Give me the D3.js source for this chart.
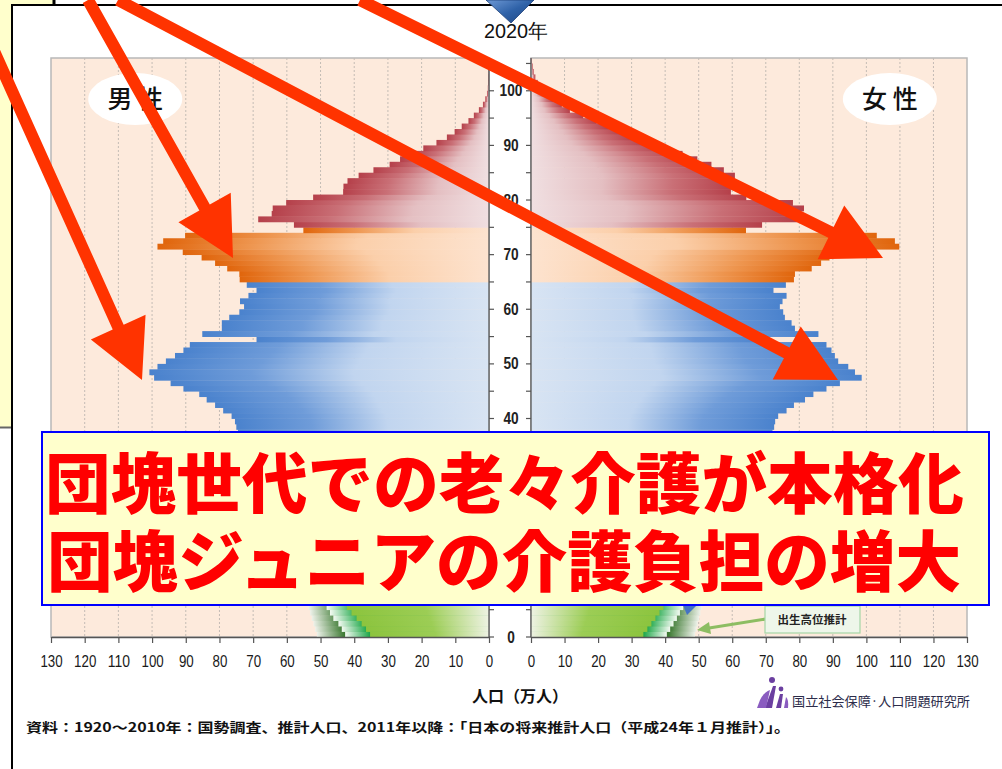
<!DOCTYPE html>
<html>
<head>
<meta charset="utf-8">
<script src="https://cdn.jsdelivr.net/npm/d3@7"></script>
<style>
  html, body { margin: 0; padding: 0; background: #fff; }
  svg { display: block; }
</style>
</head>
<body>
<svg id="chart" width="1002" height="769"></svg>
<script>
// ---- data: population by single year of age (万人), 2020 ----
const ages = d3.range(0, 106);

// male, medium-variant projection (index = age)
const male = [
  42.7, 43.7, 44.7, 46.2, 47.2, 48.2, 49.5, 51.0, 52.6, 53.8,
  54.6, 55.3, 56.2, 56.9, 57.6, 58.3, 59.0, 59.5, 60.4, 60.8,
  61.0, 61.2, 61.5, 61.0, 60.5, 61.5, 62.0, 62.5, 63.2, 64.5,
  65.5, 67.0, 68.8, 70.0, 71.2, 72.5, 73.2, 74.5, 75.0, 75.4,
  76.4, 78.9, 81.3, 83.8, 86.0, 90.7, 94.5, 99.4, 100.8, 98.4,
  95.9, 93.2, 90.7, 88.8, 69.0, 85.1, 79.3, 79.3, 77.1, 74.1,
  72.7, 73.9, 71.4, 69.0, 71.9, 74.0, 74.1, 77.7, 81.3, 85.3,
  90.9, 98.4, 96.7, 90.2, 55.1, 57.9, 68.5, 64.5, 64.2, 60.2,
  52.2, 43.3, 43.2, 42.0, 38.7, 34.3, 29.5, 26.4, 22.5, 19.5,
  15.6, 12.5, 10.2, 8.1, 6.1, 4.5, 3.0, 1.8, 1.1, 0.6,
  0.35, 0.2, 0.12, 0.07, 0.04, 0.02
];

// female, medium-variant projection (index = age)
const female = [
  40.5, 41.5, 42.5, 43.5, 44.4, 45.4, 47.0, 48.6, 50.2, 51.3,
  52.0, 52.6, 53.5, 54.2, 54.9, 55.6, 56.2, 56.8, 57.4, 57.8,
  58.0, 58.2, 58.5, 58.2, 58.0, 59.0, 59.5, 60.2, 61.0, 62.4,
  63.6, 65.0, 66.8, 68.0, 69.3, 70.5, 71.2, 72.0, 72.5, 72.8,
  73.7, 76.2, 78.4, 81.7, 84.2, 88.1, 92.1, 98.6, 96.6, 94.6,
  91.6, 90.6, 89.6, 88.1, 70.0, 85.7, 78.7, 77.7, 75.7, 75.2,
  74.2, 75.0, 76.2, 72.3, 76.0, 78.4, 78.7, 83.7, 86.5, 89.0,
  93.6, 109.8, 108.5, 103.1, 64.1, 68.9, 79.5, 80.3, 81.4, 78.1,
  64.2, 59.6, 60.3, 60.6, 60.8, 57.5, 53.8, 49.6, 45.2, 40.1,
  34.5, 30.5, 27.0, 23.1, 19.6, 15.6, 11.6, 9.2, 6.7, 4.7,
  3.1, 2.0, 1.3, 0.8, 0.5, 0.3
];

// births after 2010: high / low fertility variants, ages 0-9
const maleHigh   = [51.1, 51.6, 52.1, 52.6, 53.1, 53.6, 54.0, 54.3, 54.5, 54.6];
const maleLow    = [35.3, 36.5, 37.8, 39.3, 40.8, 42.2, 45.0, 48.0, 51.0, 53.5];
const femaleHigh = [48.9, 49.3, 49.7, 50.1, 50.5, 50.9, 51.2, 51.5, 51.8, 52.0];
const femaleLow  = [33.5, 34.7, 35.9, 37.1, 38.3, 39.5, 42.2, 45.0, 48.0, 50.8];

const popTicks = d3.range(0, 131, 10);
const ageLabels = [0, 40, 50, 60, 70, 80, 90, 100];
const ageMinor = d3.range(0, 106, 5);

const titleText = "2020年";
const maleLabel = "男 性";
const femaleLabel = "女 性";
const axisTitle = "人口（万人）";
const highLabel = "出生高位推計";
const instituteName = "国立社会保障·人口問題研究所";
const sourceNote = "資料：1920～2010年：国勢調査、推計人口、2011年以降：「日本の将来推計人口（平成24年１月推計）」。";
const headline = ["団塊世代での老々介護が本格化", "団塊ジュニアの介護負担の増大"];

// ---- layout ----
const svg = d3.select("#chart");
const defs = svg.append("defs");

const plotTop = 58, plotBottom = 637;
const xM = d3.scaleLinear().domain([0, 130]).range([489, 51]);
const xF = d3.scaleLinear().domain([0, 130]).range([531, 967]);
const y = d3.scaleLinear().domain([0, 106]).range([plotBottom, plotTop]);

const sans = "'Liberation Sans',Arial,sans-serif";
const jp = "'Noto Sans CJK JP','Noto Sans CJK SC',sans-serif";
// condensed numerals: squeeze each label to a narrow advance per character
const narrowLen = (t, per) => String(t).length * per;

// gradients: dark at the outer end of each bar, pale toward the centre
const palettes = {
  rose:   [[0, "#b5404a"], [0.3, "#c96f76"], [0.65, "#e4bfc2"], [1, "#f0dfe1"]],
  orange: [[0, "#e0650c"], [0.28, "#ee9650"], [0.6, "#fbcfaa"], [1, "#fde3cf"]],
  blue:   [[0, "#4a82cd"], [0.3, "#6f9cd9"], [0.6, "#c1d5ef"], [1, "#d8e4f3"]],
  gLow:   [[0, "#8cc43e"], [0.55, "#9ccd55"], [1, "#eef2e3"]],
  gMid:   [[0, "#f4faf2"], [0.17, "#1fa84a"], [1, "#1fa84a"]],
  gHigh:  [[0, "#eef2ea"], [0.16, "#3d7a33"], [1, "#3d7a33"]]
};
Object.entries(palettes).forEach(([name, stops]) => {
  ["M", "F"].forEach(side => {
    const g = defs.append("linearGradient")
      .attr("id", name + side)
      .attr("x1", side === "M" ? 0 : 1).attr("x2", side === "M" ? 1 : 0)
      .attr("y1", 0).attr("y2", 0);
    stops.forEach(([o, c]) => g.append("stop").attr("offset", o).attr("stop-color", c));
  });
});
const tri = defs.append("linearGradient").attr("id", "markerGrad")
  .attr("x1", 0).attr("x2", 1).attr("y1", 0).attr("y2", 1);
tri.append("stop").attr("offset", 0).attr("stop-color", "#6f9ad6");
tri.append("stop").attr("offset", 0.5).attr("stop-color", "#2f62a8");
tri.append("stop").attr("offset", 1).attr("stop-color", "#1d4480");

// ---- frames ----
svg.append("rect").attr("x", 0).attr("y", 0).attr("width", 55).attr("height", 427)
  .attr("fill", "#ffffcc");
svg.append("line").attr("x1", 54).attr("x2", 54).attr("y1", 0).attr("y2", 6)
  .attr("stroke", "#000").attr("stroke-width", 3);
svg.append("line").attr("x1", 0).attr("x2", 13).attr("y1", 427.5).attr("y2", 427.5)
  .attr("stroke", "#666").attr("stroke-width", 2);
svg.append("rect").attr("x", 12).attr("y", 5).attr("width", 1000).attr("height", 780)
  .attr("fill", "#fff").attr("stroke", "#000").attr("stroke-width", 2);

// ---- title ----
svg.append("text").attr("x", 484).attr("y", 38)
  .attr("font-family", sans).attr("font-size", 20).attr("fill", "#111")
  .attr("textLength", 64).attr("lengthAdjust", "spacingAndGlyphs")
  .text(titleText);

// ---- plot backgrounds and grid ----
const sides = [
  { key: "M", x: xM, data: male, high: maleHigh, low: maleLow },
  { key: "F", x: xF, data: female, high: femaleHigh, low: femaleLow }
];

sides.forEach(s => {
  const x0 = Math.min(s.x(0), s.x(130)), x1 = Math.max(s.x(0), s.x(130));
  svg.append("rect").attr("x", x0).attr("y", plotTop)
    .attr("width", x1 - x0).attr("height", plotBottom - plotTop)
    .attr("fill", "#fdeadc").attr("stroke", "#b8b8b8").attr("stroke-width", 1.5);
  svg.append("g").selectAll("line").data(popTicks.filter(d => d > 0 && d < 130)).join("line")
    .attr("x1", d => s.x(d)).attr("x2", d => s.x(d))
    .attr("y1", plotTop).attr("y2", plotBottom)
    .attr("stroke", "#c4bcb5").attr("stroke-width", 1).attr("stroke-dasharray", "2,2");
});

// ---- bars ----
function group(age) {
  if (age < 15) return "gLow";
  if (age < 65) return "blue";
  if (age < 75) return "orange";
  return "rose";
}
const bandH = y(0) - y(1);

sides.forEach(s => {
  const g = svg.append("g");
  const bar = (sel, val) => sel
    .attr("x", d => Math.min(s.x(0), s.x(val(d))))
    .attr("width", d => Math.abs(s.x(val(d)) - s.x(0)))
    .attr("y", d => y(d + 1))
    .attr("height", bandH + 0.4);

  // fertility variants for the youngest cohorts: high, then medium, then low on top
  const young = d3.range(0, s.high.length);
  g.append("g").selectAll("rect").data(young).join("rect")
    .call(bar, a => s.high[a]).attr("fill", `url(#gHigh${s.key})`);
  g.append("g").selectAll("rect").data(young).join("rect")
    .call(bar, a => s.data[a]).attr("fill", `url(#gMid${s.key})`);
  g.append("g").selectAll("rect").data(young).join("rect")
    .call(bar, a => s.low[a]).attr("fill", `url(#gLow${s.key})`);

  g.append("g").selectAll("rect").data(ages.filter(a => a >= s.high.length)).join("rect")
    .call(bar, a => s.data[a]).attr("fill", a => `url(#${group(a)}${s.key})`);
});

// ---- axes ----
const axisColor = "#555";
// centre age axes
[[xM(0), 1], [xF(0), -1]].forEach(([ax, dir]) => {
  svg.append("line").attr("x1", ax).attr("x2", ax).attr("y1", plotTop).attr("y2", plotBottom)
    .attr("stroke", axisColor).attr("stroke-width", 1.3);
  svg.append("g").selectAll("line").data(ageMinor).join("line")
    .attr("x1", ax).attr("x2", ax + dir * 5)
    .attr("y1", d => y(d)).attr("y2", d => y(d))
    .attr("stroke", axisColor).attr("stroke-width", 1.2);
});
svg.append("g").selectAll("text").data(ageLabels).join("text")
  .attr("x", 511).attr("y", d => y(d) + 5.5).attr("text-anchor", "middle")
  .attr("font-family", sans).attr("font-weight", "bold").attr("font-size", 16)
  .attr("textLength", d => narrowLen(d, 7.6)).attr("lengthAdjust", "spacingAndGlyphs")
  .attr("fill", "#222").text(d => d);

// population axes along the bottom
sides.forEach(s => {
  const axis = d3.axisBottom(s.x).tickValues(popTicks).tickSize(6).tickSizeOuter(0);
  const ag = svg.append("g").attr("transform", `translate(0,${plotBottom})`).call(axis);
  ag.select(".domain").attr("stroke", axisColor).attr("stroke-width", 1.3);
  ag.selectAll(".tick line").attr("stroke", axisColor).attr("stroke-width", 1.2);
  ag.selectAll(".tick text").attr("dy", 0).attr("y", 30)
    .attr("font-family", sans).attr("font-size", 16).attr("fill", "#1a1a1a")
    .attr("textLength", d => narrowLen(d, 7.4)).attr("lengthAdjust", "spacingAndGlyphs");
});

svg.append("text").attr("x", 520).attr("y", 702).attr("text-anchor", "middle")
  .attr("font-family", jp).attr("font-weight", "bold").attr("font-size", 16)
  .attr("fill", "#111").text(axisTitle);

// ---- sex labels ----
[[xM(105), maleLabel], [xF(107), femaleLabel]].forEach(([cx, t]) => {
  svg.append("ellipse").attr("cx", cx).attr("cy", 99).attr("rx", 47).attr("ry", 26)
    .attr("fill", "#fff");
  svg.append("text").attr("x", cx).attr("y", 108).attr("text-anchor", "middle")
    .attr("font-family", jp).attr("font-weight", 500).attr("font-size", 25)
    .attr("fill", "#111").text(t);
});

// ---- high-variant callout ----
svg.append("line").attr("x1", 766).attr("y1", 619).attr("x2", 706).attr("y2", 628.5)
  .attr("stroke", "#8dbd62").attr("stroke-width", 3);
svg.append("path").attr("d", "M697,630 L709,622 L711,634 Z").attr("fill", "#8dbd62");
svg.append("rect").attr("x", 765).attr("y", 606).attr("width", 95).attr("height", 27)
  .attr("fill", "#eef6ea").attr("stroke", "#a6d6a6").attr("stroke-width", 1.2);
svg.append("text").attr("x", 812).attr("y", 624).attr("text-anchor", "middle")
  .attr("font-family", jp).attr("font-weight", "bold").attr("font-size", 11.5)
  .attr("fill", "#222").text(highLabel);
svg.append("path").attr("d", "M683,605 L697,605 L687,615 Z").attr("fill", "#4472c4");

// ---- institute logo and source ----
const logo = svg.append("g").attr("fill", "#6b3fa0");
logo.append("circle").attr("cx", 772).attr("cy", 680).attr("r", 3);
logo.append("path").attr("d", "M773,686 L776,686 L772,708 L765,708 Z");
logo.append("circle").attr("cx", 781).attr("cy", 689).attr("r", 2.4);
logo.append("path").attr("d", "M780,694 L783,694 L781,708 L776,708 Z");
logo.append("path").attr("d", "M760,700 Q764,692 770,690 L766,708 L757,708 Z").attr("fill", "#8a5cc0");
logo.append("path").attr("d", "M786,697 Q789,700 788,708 L784,708 Z").attr("fill", "#8a5cc0");
svg.append("text").attr("x", 792).attr("y", 706)
  .attr("font-family", jp).attr("font-size", 13).attr("fill", "#2c2c4a")
  .attr("textLength", 178).attr("lengthAdjust", "spacingAndGlyphs").text(instituteName);

svg.append("text").attr("x", 26).attr("y", 732)
  .attr("font-family", jp).attr("font-weight", "bold").attr("font-size", 13)
  .attr("fill", "#111").attr("textLength", 764).attr("lengthAdjust", "spacingAndGlyphs")
  .text(sourceNote);

// ---- red arrows ----
const arrows = [
  { from: [-20, 20],  tip: [142, 380] },
  { from: [88, 0],    tip: [233, 258] },
  { from: [118, 0],   tip: [838, 380] },
  { from: [360, 0],   tip: [883, 258] }
];
const headLen = 58, headHalf = 30, shaft = 12;
const arrowLayer = svg.append("g").attr("fill", "#ff3300");
arrows.forEach(a => {
  const dx = a.tip[0] - a.from[0], dy = a.tip[1] - a.from[1];
  const L = Math.hypot(dx, dy), ux = dx / L, uy = dy / L, px = -uy, py = ux;
  const bx = a.tip[0] - ux * headLen, by = a.tip[1] - uy * headLen;
  const w = shaft / 2;
  const pts = [
    [a.from[0] + px * w, a.from[1] + py * w],
    [bx + px * w, by + py * w],
    [bx + px * headHalf, by + py * headHalf],
    a.tip,
    [bx - px * headHalf, by - py * headHalf],
    [bx - px * w, by - py * w],
    [a.from[0] - px * w, a.from[1] - py * w]
  ];
  arrowLayer.append("polygon").attr("points", pts.map(p => p.join(",")).join(" "));
});

// ---- headline box ----
svg.append("rect").attr("x", 42).attr("y", 432).attr("width", 947).attr("height", 173)
  .attr("fill", "#ffffcc").attr("stroke", "#0000ff").attr("stroke-width", 2);
svg.append("text").attr("x", 45).attr("y", 508)
  .attr("font-family", jp).attr("font-weight", 900).attr("font-size", 66)
  .attr("fill", "#ff0000").attr("textLength", 919).attr("lengthAdjust", "spacingAndGlyphs")
  .text(headline[0]);
svg.append("text").attr("x", 47).attr("y", 586)
  .attr("font-family", jp).attr("font-weight", 900).attr("font-size", 66)
  .attr("fill", "#ff0000").attr("textLength", 914).attr("lengthAdjust", "spacingAndGlyphs")
  .text(headline[1]);

// ---- year marker ----
svg.append("path").attr("d", "M486,0 L534,0 L511,23 Z").attr("fill", "url(#markerGrad)")
  .attr("stroke", "#1d3f78").attr("stroke-width", 0.8);
</script>
</body>
</html>
